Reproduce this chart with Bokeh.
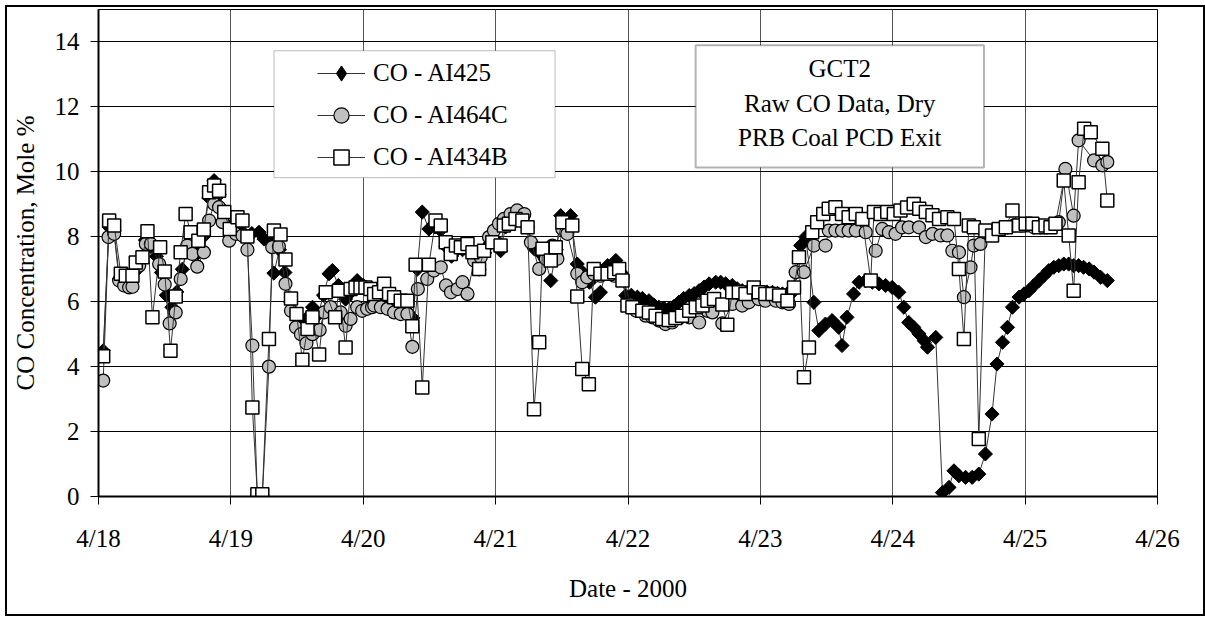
import numpy as np
from bokeh.plotting import figure
from bokeh.layouts import column
from bokeh.models import (FixedTicker, Legend, LegendItem, BoxAnnotation, Label,
                          ColumnDataSource, CDSView, IndexFilter)
from bokeh.embed import file_html
from bokeh.resources import INLINE

FONT = "Liberation Serif"
FS = "25px"

date_labels = ["4/18", "4/19", "4/20", "4/21", "4/22", "4/23", "4/24", "4/25", "4/26"]
y_ticks = [0, 2, 4, 6, 8, 10, 12, 14]
series_names = ["CO - AI425", "CO - AI464C", "CO - AI434B"]
note_lines = ["GCT2", "Raw CO Data, Dry", "PRB Coal PCD Exit"]

# hours after 4/18 00:00 and CO mole % -- AI425 (diamonds)
ai425_h = [0.85, 1.9, 2.8, 3.8, 4.7, 5.6, 6.5, 7.4, 8.5, 9.5, 10.5, 11.4, 12.3, 13.3, 14.2, 15.2, 16.1, 17.0, 18.0, 19.0,
           20.0, 20.96, 21.9, 22.8, 23.8, 24.8, 25.8, 26.8, 27.8, 29.1, 30.0, 31.0, 31.8, 32.8, 33.8, 34.8, 35.8, 36.8, 37.8, 38.8,
           39.8, 40.8, 41.8, 42.4, 43.5, 44.8, 45.8, 46.9, 48.0, 49.0,
           50.0, 51.0, 52.0, 53.0, 54.0, 55.0, 56.0, 57.0, 57.8, 58.7, 59.9, 61.0, 62.0, 63.0, 64.0, 65.0, 66.0, 67.0, 68.0, 69.0,
           70.0, 71.0, 72.0, 72.9, 73.8, 74.8, 75.8, 76.8, 77.8, 79.0, 80.0, 81.0, 82.0, 83.0, 83.8, 84.7, 85.6, 86.8, 87.8, 89.0,
           90.1, 91.0, 92.3, 93.8, 94.7, 95.6, 96.6, 97.7,
           98.6, 99.8, 100.7, 101.6, 102.5, 103.4, 104.3, 105.2, 106.1, 107.1, 108.0, 108.9, 109.8, 110.7, 111.9, 112.8, 113.7,
           114.9, 115.8, 116.7, 117.6, 118.5, 119.4, 120.3, 121.2, 122.2, 123.1, 124.0, 124.9, 125.8, 126.5, 127.3, 128.2, 129.7,
           130.6, 131.8, 133.0, 134.2, 134.8, 135.7, 136.9, 137.9, 139.1, 140.3, 141.5, 142.7, 143.9, 145.1, 146.0,
           146.9, 147.8, 148.75, 149.7, 150.3, 151.8, 153.0, 154.2, 155.1, 156.0, 157.2, 158.4, 159.6, 160.8, 162.0, 162.9, 163.9,
           164.8, 165.7, 166.9, 167.8, 168.7, 169.6, 170.5, 171.4, 172.3, 173.2, 174.1, 175.0, 175.9, 176.8, 177.7, 178.6, 179.6,
           180.5, 181.7, 182.9]
ai425_v = [4.49, 8.3, 8.2, 6.7, 6.6, 6.6, 6.9, 7.3, 7.9, 7.7, 7.4, 6.9, 6.2, 5.83, 6.3, 7.0, 7.7, 7.6, 7.5, 8.0,
           9.2, 9.73, 9.3, 8.8, 8.3, 8.4, 8.2, 8.0, 8.1, 8.14, 7.93, 7.9, 6.88, 7.6, 6.9, 6.0, 5.6, 5.3, 5.5, 5.83,
           5.6, 6.2, 6.86, 6.96, 6.5, 6.08, 6.3, 6.65, 6.5, 6.4,
           6.0, 6.1, 6.0, 5.9, 5.8, 5.8, 5.7, 5.5, 7.0, 8.76, 8.24, 8.3, 8.2, 7.7, 7.4, 7.6, 7.6, 7.7, 7.4, 7.0,
           7.5, 7.8, 7.9, 7.57, 8.3, 8.5, 8.6, 8.55, 8.3, 7.63, 7.5, 7.3, 6.65, 7.6, 8.65, 8.5, 8.65, 7.16, 6.9, 6.6,
           6.14, 6.29, 7.11, 7.27, 6.9, 6.19, 6.2, 6.14,
           6.1, 6.03, 5.9, 5.83, 5.8, 5.78, 5.85, 5.98, 6.1, 6.19, 6.25, 6.34, 6.45, 6.55, 6.60, 6.6, 6.55,
           6.50, 6.4, 6.34, 6.3, 6.29, 6.3, 6.29, 6.3, 6.29, 6.25, 6.24, 6.25, 6.29, 6.9, 7.73, 7.99, 5.98,
           5.11, 5.31, 5.42, 5.21, 4.65, 5.52, 6.24, 6.60, 6.65, 6.60, 6.55, 6.50, 6.44, 6.29, 5.83,
           5.36, 5.21, 5.01, 4.80, 4.60, 4.90, 0.12, 0.28, 0.79, 0.64, 0.59, 0.59, 0.69, 1.31, 2.54, 4.08, 4.75,
           5.21, 5.83, 6.14, 6.24, 6.34, 6.50, 6.65, 6.80, 6.96, 7.06, 7.11, 7.16, 7.16, 7.11, 7.11, 7.06, 7.01,
           6.91, 6.75, 6.65]

# AI464C (grey circles)
ai464c_h = [0.85, 1.81, 2.84, 3.74, 4.65, 5.56, 6.16, 7.37, 8.58, 9.48, 11.0, 12.0, 12.9, 14.0, 14.9, 16.1, 17.0, 17.9, 19.1, 20.05,
            20.96, 21.86, 22.5, 23.7, 24.9, 26.1, 27.0, 27.9, 28.8, 29.7, 30.9, 31.5, 32.7, 33.9, 34.9, 35.8, 36.7, 37.7, 38.8, 40.1,
            40.9, 42.1, 43.9, 44.8, 45.7, 46.9, 47.8, 48.7, 49.6,
            50.0, 51.2, 52.4, 53.6, 54.8, 56.0, 56.9, 57.9, 59.6, 60.8, 62.05, 63.0, 63.9, 65.1, 66.0, 66.9, 68.1, 69.3, 70.8, 71.7,
            72.6, 73.5, 74.7, 75.9, 77.2, 78.4, 79.9, 81.1, 82.3, 83.2, 84.1, 85.0, 86.8, 87.7, 88.6, 89.8, 91.0, 92.3, 93.5, 95.0,
            96.5,
            97.5, 99.2, 100.4, 101.6, 102.8, 104.0, 105.5, 107.1, 108.9, 110.4, 111.3, 113.1, 114.9, 116.7, 117.9, 119.7, 120.9,
            122.8, 124.0, 125.2, 126.4, 127.9, 129.7, 131.8, 132.4, 133.6, 134.8, 136.0, 137.3, 139.1, 140.9, 142.1, 143.3, 144.5,
            145.7,
            146.9, 148.75, 150.0, 151.2, 152.7, 153.9, 154.8, 156.0, 156.9, 158.1, 158.7, 159.9, 160.8, 162.0, 163.5, 164.8, 166.0,
            167.2, 168.4, 169.6, 170.8, 172.0, 173.2, 174.1, 175.3, 176.8, 177.7, 180.5, 182.0, 182.9]
ai464c_v = [3.57, 7.99, 8.09, 6.65, 6.50, 6.44, 6.46, 7.11, 7.78, 7.78, 7.16, 6.53, 5.33, 5.67, 6.70, 7.73, 7.47, 7.08, 7.52, 8.50,
            9.01, 8.91, 8.45, 7.88, 8.09, 8.04, 7.60, 4.65, 0.0, 0.0, 4.00, 7.68, 7.70, 6.55, 5.72, 5.21, 5.00, 4.72, 5.00, 5.13,
            5.67, 5.83, 5.67, 5.26, 5.47, 5.83, 5.72, 5.78, 5.83,
            5.88, 5.83, 5.78, 5.67, 5.62, 5.62, 4.61, 6.39, 6.70, 6.96, 7.06, 6.50, 6.29, 6.39, 6.60, 6.24, 7.27, 7.37, 7.99, 8.19,
            8.40, 8.55, 8.70, 8.81, 8.70, 7.83, 7.01, 7.32, 7.73, 7.32, 8.24, 8.09, 6.86, 6.60, 6.75, 6.86, 6.80, 6.86, 6.80, 6.75,
            5.93,
            5.72, 5.57, 5.52, 5.42, 5.31, 5.36, 5.52, 5.52, 5.36, 5.72, 5.67, 5.33, 5.93, 5.88, 5.98, 6.08, 6.03,
            6.03, 5.98, 5.93, 6.91, 6.91, 7.73, 7.73, 8.19, 8.19, 8.19, 8.19, 8.19, 8.14, 7.57, 8.24, 8.14, 8.09,
            8.29,
            8.29, 8.29, 7.99, 8.09, 8.04, 8.04, 7.57, 7.52, 6.14, 7.06, 7.73, 7.78, 8.14, 8.14, 8.24, 8.29, 8.35,
            8.35, 8.35, 8.29, 8.29, 8.29, 8.35, 8.45, 10.09, 8.65, 10.97, 10.35, 10.20, 10.30]

# AI434B (white squares)
ai434b_h = [0.85, 1.93, 2.84, 4.05, 4.95, 6.16, 6.76, 7.97, 8.88, 9.78, 11.17, 12.0, 13.05, 14.0, 14.9, 15.8, 16.7, 18.1, 19.1, 20.05,
            20.96, 21.86, 22.8, 23.8, 25.2, 26.1, 27.0, 27.9, 28.8, 29.7, 30.9, 31.8, 33.0, 33.9, 34.9, 35.9, 36.96, 37.9, 38.8, 40.0,
            41.2, 42.9, 43.6, 44.8, 45.7, 46.6, 47.5, 48.4, 49.3,
            49.97, 50.87, 51.78, 52.68, 53.59, 54.8, 56.0, 56.9, 57.5, 58.7, 59.9, 61.1, 62.05, 62.95, 63.86, 64.8, 65.7, 66.9, 67.8, 69.0,
            69.9, 71.4, 72.9, 73.5, 74.4, 75.6, 76.85, 77.8, 78.96, 79.9, 80.5, 82.0, 82.9, 84.1, 85.9, 86.8, 87.7, 88.9, 89.8, 91.0,
            92.3, 93.5, 94.4, 95.0, 95.9, 96.8,
            98.6, 99.8, 101.0, 102.2, 103.4, 104.6, 105.8, 107.1, 108.3, 109.5, 110.4, 111.6, 113.1, 114.0, 114.9, 116.1, 117.3,
            118.8, 119.7, 120.9, 122.2, 123.4, 124.9, 126.1, 127.0, 127.9, 128.8, 129.4, 130.3, 131.4, 132.4, 133.6, 134.8, 136.0,
            137.3, 138.5, 140.0, 140.6, 141.8, 143.0, 144.2, 145.4, 146.6,
            147.8, 148.8, 150.0, 151.2, 152.4, 153.9, 155.1, 156.0, 156.9, 157.8, 158.7, 159.6, 160.8, 162.0, 163.2, 164.5, 165.7,
            166.9, 168.1, 169.3, 170.5, 171.7, 172.6, 173.5, 175.0, 175.9, 176.8, 177.7, 178.7, 179.9, 182.0, 182.9]
ai434b_v = [4.32, 8.50, 8.35, 6.86, 6.80, 6.80, 7.21, 7.37, 8.17, 5.52, 7.68, 6.93, 4.49, 6.16, 7.52, 8.70, 8.14, 7.88, 8.22, 9.37,
            9.58, 9.42, 8.76, 8.24, 8.60, 8.50, 8.01, 2.74, 0.07, 0.07, 4.85, 8.19, 8.07, 7.30, 6.10, 5.62, 4.21, 5.16, 5.52, 4.37,
            6.29, 5.52, 6.34, 4.59, 6.39, 6.44, 6.44, 6.44, 6.39,
            6.24, 6.29, 6.55, 6.24, 6.14, 6.03, 6.03, 5.24, 7.14, 3.36, 7.14, 8.50, 8.35, 7.83, 7.47, 7.73, 7.68, 7.78, 7.52, 7.01,
            7.57, 7.83, 7.73, 8.35, 8.40, 8.55, 8.50, 8.29, 2.69, 4.75, 7.63, 7.27, 7.68, 8.45, 8.35, 6.16, 3.93, 3.46, 7.01, 6.86,
            6.86, 6.91, 7.01, 6.65, 5.88, 5.83,
            5.72, 5.67, 5.57, 5.47, 5.44, 5.50, 5.57, 5.72, 5.83, 5.88, 6.03, 6.08, 5.91, 5.29, 6.29, 6.29, 6.24,
            6.44, 6.29, 6.24, 6.24, 6.19, 6.03, 6.44, 7.37, 3.67, 4.59, 8.14, 8.45, 8.70, 8.86, 8.91, 8.70, 8.60,
            8.70, 8.55, 6.65, 8.76, 8.70, 8.76, 8.70, 8.81, 8.90,
            9.01, 8.86, 8.76, 8.66, 8.55, 8.60, 8.55, 7.01, 4.85, 8.35, 8.29, 1.77, 8.19, 8.04, 8.24, 8.29, 8.81,
            8.35, 8.40, 8.40, 8.29, 8.35, 8.29, 8.40, 9.73, 8.04, 6.34, 9.68, 11.33, 11.22, 10.71, 9.12]


def days(hours):
    return [h / 24.0 for h in hours]


# figure sits inside a bordered box: box outer edge 5..1205 x 5..616
W, H = 1196, 607
ML, MR, MT, MB = 91, 46, 2, 118
p = figure(width=W, height=H, x_range=(0, 8), y_range=(0, 15),
           output_backend="svg", toolbar_location=None,
           min_border_left=ML, min_border_right=MR, min_border_top=MT, min_border_bottom=MB)
p.background_fill_color = "white"
p.border_fill_color = "white"
p.outline_line_color = "black"
p.outline_line_width = 1
p.outline_line_alpha = 1

x_ticks = list(range(len(date_labels)))
p.xaxis.ticker = FixedTicker(ticks=x_ticks)
p.xgrid.ticker = FixedTicker(ticks=x_ticks)
p.yaxis.ticker = FixedTicker(ticks=y_ticks)
p.ygrid.ticker = FixedTicker(ticks=y_ticks)
p.xaxis.major_label_overrides = {i: lab for i, lab in enumerate(date_labels)}
p.xgrid.grid_line_color = "#555555"
p.ygrid.grid_line_color = "black"
p.xgrid.grid_line_width = 1
p.ygrid.grid_line_width = 1

p.xaxis.axis_label = "Date - 2000"
p.yaxis.axis_label = "CO Concentration, Mole %"
for ax in (p.xaxis[0], p.yaxis[0]):
    ax.axis_line_color = "black"
    ax.axis_line_width = 2
    ax.major_tick_line_color = "black"
    ax.major_tick_line_width = 1
    ax.major_tick_out = 8
    ax.major_tick_in = 0
    ax.minor_tick_line_color = None
    ax.major_label_text_font = FONT
    ax.major_label_text_font_size = FS
    ax.major_label_text_color = "black"
    ax.axis_label_text_font = FONT
    ax.axis_label_text_font_size = FS
    ax.axis_label_text_font_style = "normal"
    ax.axis_label_text_color = "black"
p.xaxis.major_label_standoff = 20
p.xaxis.axis_label_standoff = 20
p.yaxis.major_label_standoff = 11
p.yaxis.axis_label_standoff = 13

LINE = "#333333"
src1 = ColumnDataSource(dict(x=days(ai425_h), y=ai425_v))
src2 = ColumnDataSource(dict(x=days(ai464c_h), y=ai464c_v))
src3 = ColumnDataSource(dict(x=days(ai434b_h), y=ai434b_v))

l1 = p.line("x", "y", source=src1, line_color=LINE, line_width=1)
s1 = p.scatter("x", "y", source=src1, marker="square", angle=np.pi / 4, size=10,
               fill_color="black", line_color="black", line_width=1)
# legend key for AI425: a plain diamond drawn on the first AI425 point only
# (it sits inside that point's rotated-square marker)
s1_key = p.scatter("x", "y", source=src1, view=CDSView(filter=IndexFilter(indices=[0])),
                   marker="diamond", size=12, fill_color="black", line_color="black")
l2 = p.line("x", "y", source=src2, line_color=LINE, line_width=1)
s2 = p.scatter("x", "y", source=src2, marker="circle", size=13,
               fill_color="#c0c0c0", line_color="black", line_width=1.2)
l3 = p.line("x", "y", source=src3, line_color=LINE, line_width=1)
s3 = p.scatter("x", "y", source=src3, marker="square", size=13,
               fill_color="white", line_color="black", line_width=1.5)

# legend frame and note frame
legend_box = BoxAnnotation(left=1.326, right=3.449, top=13.73, bottom=9.82,
                           fill_color="white", fill_alpha=1, line_color="#222222", line_width=1)
note_box = BoxAnnotation(left=4.511, right=6.689, top=13.90, bottom=10.13,
                         fill_color="white", fill_alpha=1, line_color="black", line_width=2)
p.add_layout(legend_box)
p.add_layout(note_box)

note_y = [13.17, 12.10, 11.05]
for txt, yy in zip(note_lines, note_y):
    p.add_layout(Label(x=5.60, y=yy, text=txt, text_align="center", text_baseline="middle",
                       text_font=FONT, text_font_size=FS, text_color="black"))

legend = Legend(items=[LegendItem(label=series_names[0], renderers=[l1, s1_key]),
                       LegendItem(label=series_names[1], renderers=[l2, s2]),
                       LegendItem(label=series_names[2], renderers=[l3, s3])],
                location=(219, 320), orientation="vertical",
                glyph_width=48, glyph_height=38, label_height=38, spacing=4,
                padding=0, margin=0, label_standoff=8,
                border_line_alpha=0, background_fill_alpha=0,
                label_text_font=FONT, label_text_font_size=FS, label_text_color="black")
p.add_layout(legend)

layout = column(p, margin=(5, 0, 0, 5),
                styles={"border": "2px solid black", "background-color": "white"})

open("out.html", "w").write(file_html(layout, INLINE))
